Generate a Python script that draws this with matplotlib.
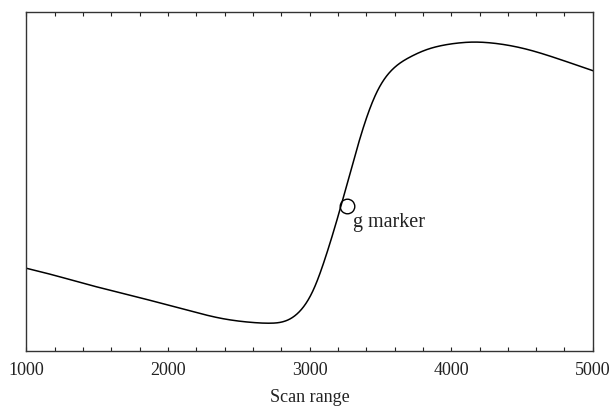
import numpy as np
import matplotlib.pyplot as plt
from matplotlib.ticker import MultipleLocator

# curve values (y in arbitrary units, 0..1 of the frame)
scan = [1000, 1190, 1425, 1660, 1896, 2132, 2367, 2602, 2720, 2838, 2932,
        3026, 3121, 3192, 3286, 3380, 3474, 3591, 3709, 3827, 3945,
        4063, 4133, 4298, 4534, 4769, 5000]
signal = [0.244, 0.224, 0.197, 0.172, 0.147, 0.121, 0.097, 0.084, 0.082,
          0.090, 0.118, 0.180, 0.288, 0.385, 0.525, 0.660, 0.763, 0.833,
          0.867, 0.889, 0.902, 0.909, 0.911, 0.908, 0.890, 0.860, 0.827]

g_x = 3262
g_y = 0.428
g_label = "g marker"


def spline(x, y, xn):
    # natural cubic spline through the read points
    x = np.asarray(x, float)
    y = np.asarray(y, float)
    n = len(x)
    h = np.diff(x)
    A = np.zeros((n, n))
    r = np.zeros(n)
    A[0, 0] = A[-1, -1] = 1
    for i in range(1, n - 1):
        A[i, i - 1] = h[i - 1]
        A[i, i] = 2 * (h[i - 1] + h[i])
        A[i, i + 1] = h[i]
        r[i] = 6 * ((y[i + 1] - y[i]) / h[i] - (y[i] - y[i - 1]) / h[i - 1])
    M = np.linalg.solve(A, r)
    idx = np.clip(np.searchsorted(x, xn) - 1, 0, n - 2)
    a = x[idx + 1] - xn
    b = xn - x[idx]
    hi = h[idx]
    return (M[idx] * a**3 / (6 * hi) + M[idx + 1] * b**3 / (6 * hi)
            + (y[idx] / hi - M[idx] * hi / 6) * a
            + (y[idx + 1] / hi - M[idx + 1] * hi / 6) * b)


plt.rcParams['font.family'] = ['Liberation Serif', 'DejaVu Serif']

fig = plt.figure(figsize=(6.13, 4.09), dpi=100)
ax = fig.add_axes([0.0432, 0.1418, 0.9238, 0.8289])

xs = np.linspace(scan[0], scan[-1], 1000)
ax.plot(xs, spline(scan, signal, xs), color='black', linewidth=1.1)

ax.plot([g_x], [g_y], marker='o', markersize=10.5, markerfacecolor='none',
        markeredgecolor='black', markeredgewidth=1.0, linestyle='none')
ax.annotate(g_label, (g_x, g_y), xytext=(4.3, -14.9), textcoords='offset points',
            fontsize=14.5, va='baseline', ha='left', color='#222222')

ax.set_xlim(1000, 5000)
ax.set_ylim(0, 1)
ax.xaxis.set_major_locator(MultipleLocator(1000))
ax.xaxis.set_minor_locator(MultipleLocator(200))
ax.tick_params(axis='x', which='both', direction='in', length=3, width=0.8,
               top=True, bottom=True, labelsize=13, pad=8, colors='#222222')
ax.tick_params(axis='y', which='both', left=False, right=False, labelleft=False)
for s in ax.spines.values():
    s.set_linewidth(1.0)
    s.set_color('#333333')

ax.set_xlabel("Scan range", fontsize=13, labelpad=7, color='#222222')

plt.savefig('out.png', dpi=100)
